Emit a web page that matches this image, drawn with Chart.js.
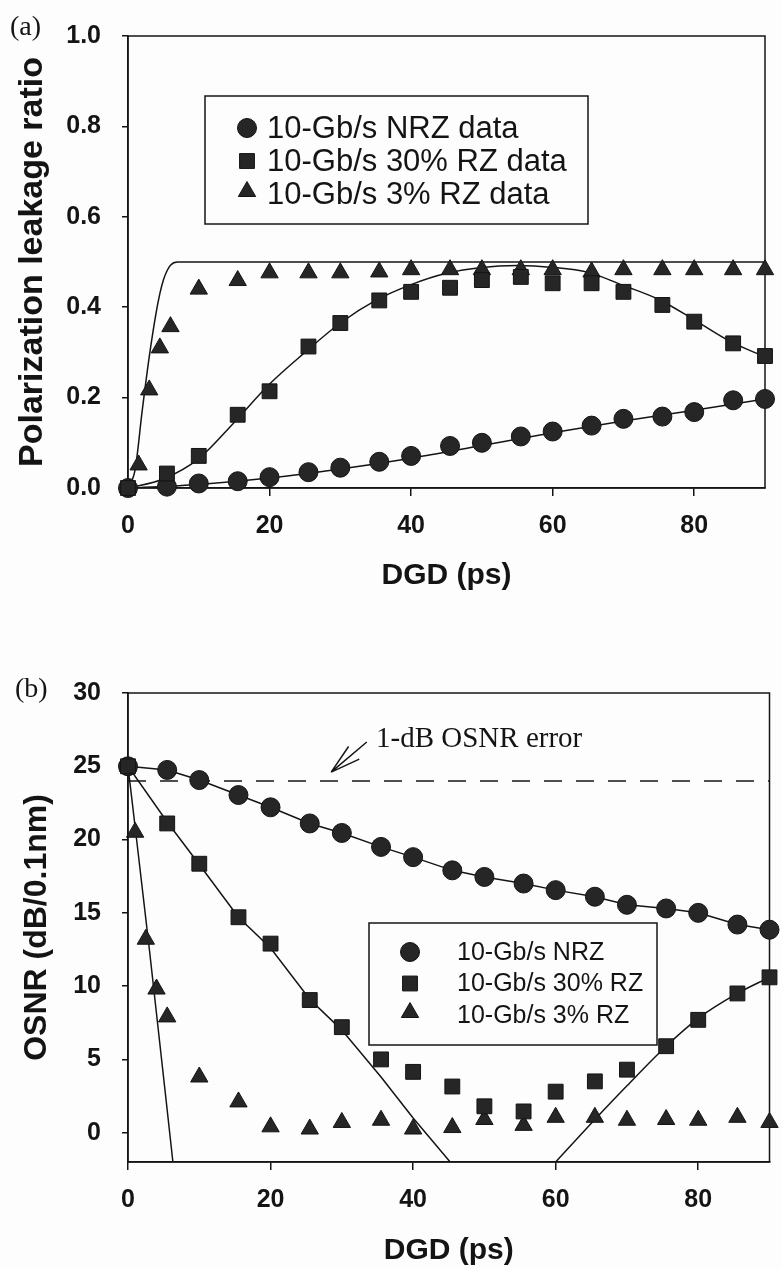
<!DOCTYPE html>
<html>
<head>
<meta charset="utf-8">
<script src="https://cdn.jsdelivr.net/npm/chart.js@4.4.1/dist/chart.umd.min.js"></script>
<style>
  html, body { margin: 0; padding: 0; background: #fdfdfd; }
  #wrap { position: relative; width: 781px; height: 1269px; overflow: hidden; }
  canvas { position: absolute; left: 0; }
  #chartA { top: 0; }
  #chartB { top: 600px; }
</style>
</head>
<body>
<div id="wrap">
  <canvas id="chartA" width="781" height="600"></canvas>
  <canvas id="chartB" width="781" height="669"></canvas>
</div>
<script>
// DGD sample points (ps)
const dgd = [0, 5.5, 10, 15.5, 20, 25.5, 30, 35.5, 40, 45.5, 50, 55.5, 60, 65.5, 70, 75.5, 80, 85.5, 90];
const dgdRz3A = [0, 1.5, 3, 4.5, 6, 10, 15.5, 20, 25.5, 30, 35.5, 40, 45.5, 50, 55.5, 60, 65.5, 70, 75.5, 80, 85.5, 90];
const dgdRz3B = [0, 1, 2.5, 4, 5.5, 10, 15.5, 20, 25.5, 30, 35.5, 40, 45.5, 50, 55.5, 60, 65.5, 70, 75.5, 80, 85.5, 90];

// (a) polarization leakage ratio - measured
const leakNrz = [0, 0.003, 0.01, 0.015, 0.024, 0.035, 0.045, 0.058, 0.071, 0.093, 0.1, 0.114, 0.125, 0.138, 0.153, 0.158, 0.168, 0.194, 0.197];
const leakRz30 = [0, 0.032, 0.071, 0.162, 0.214, 0.313, 0.365, 0.415, 0.434, 0.443, 0.46, 0.467, 0.453, 0.453, 0.434, 0.405, 0.368, 0.32, 0.292];
const leakRz3 = [0, 0.051, 0.217, 0.31, 0.357, 0.44, 0.459, 0.476, 0.476, 0.476, 0.478, 0.483, 0.483, 0.483, 0.483, 0.483, 0.478, 0.483, 0.483, 0.483, 0.483, 0.483];

// (a) theory curves
const fitX = [0, 5, 10, 15, 20, 25, 30, 35, 40, 45, 50, 55, 60, 65, 70, 75, 80, 85, 90];
const leakRz30Fit = [0, 0.02, 0.065, 0.145, 0.23, 0.3, 0.365, 0.415, 0.45, 0.475, 0.488, 0.492, 0.488, 0.477, 0.448, 0.417, 0.372, 0.325, 0.29];
const nrzFitX = [0, 10, 20, 30, 40, 50, 60, 70, 80, 90];
const leakNrzFit = [0, 0.008, 0.022, 0.042, 0.066, 0.094, 0.122, 0.148, 0.172, 0.197];
const rz3FitX = [0, 1, 2, 3, 4, 4.5, 5, 5.5, 6, 7, 90];
const leakRz3Fit = [0, 0.04, 0.17, 0.29, 0.39, 0.43, 0.46, 0.48, 0.493, 0.5, 0.5];

// (b) OSNR (dB/0.1nm) - measured
const osnrNrz = [25, 24.75, 24.06, 23.04, 22.2, 21.1, 20.45, 19.5, 18.8, 17.9, 17.45, 17.0, 16.55, 16.1, 15.55, 15.3, 15.0, 14.2, 13.85];
const osnrRz30 = [25, 21.1, 18.35, 14.7, 12.9, 9.05, 7.2, 5.0, 4.15, 3.15, 1.8, 1.45, 2.8, 3.5, 4.3, 5.9, 7.7, 9.5, 10.6];
const osnrRz3 = [25, 20.5, 13.2, 9.8, 7.9, 3.8, 2.1, 0.4, 0.25, 0.7, 0.85, 0.25, 0.35, 0.9, 0.5, 1.05, 1.05, 0.85, 0.9, 0.85, 1.05, 0.7];

// (b) theory curves
const rz30FallX = [0, 5.5, 10, 15.5, 20, 25.5, 30, 35.5, 40, 45.2];
const osnrRz30Fall = [25, 21.2, 18.3, 14.7, 12.6, 9.1, 7.0, 3.8, 1.0, -2];
const rz30RiseX = [60, 65.5, 70, 75.5, 80, 85.5, 90];
const osnrRz30Rise = [-2, 0.9, 3.2, 5.9, 7.8, 9.5, 10.6];
const rz3FallX = [0, 3, 6.3];
const osnrRz3Fall = [25, 12.5, -2];
const errX = [0, 90];
const osnrErr = [24, 24];

const xTicks = [0, 20, 40, 60, 80];
const yTicksA = [0, 0.2, 0.4, 0.6, 0.8, 1.0];
const yTicksB = [0, 5, 10, 15, 20, 25, 30];
const labelsA = ['10-Gb/s NRZ data', '10-Gb/s 30% RZ data', '10-Gb/s 3% RZ data'];
const labelsB = ['10-Gb/s NRZ', '10-Gb/s 30% RZ', '10-Gb/s 3% RZ'];

const SANS = '"Liberation Sans", Arial, sans-serif';
const SERIF = '"Liberation Serif", "Times New Roman", serif';
const INK = '#141414';
const FILL = '#262626';

const pts = (xs, ys) => xs.map((x, i) => ({ x, y: ys[i] }));
const shapes = [
  { pointStyle: 'circle', radius: 9.5 },
  { pointStyle: 'rect', radius: 10.5 },
  { pointStyle: 'triangle', radius: 10 }
];

function markers(data, shape, order, line) {
  return {
    data, order,
    showLine: !!line,
    borderColor: INK, borderWidth: 1.5,
    pointStyle: shape.pointStyle, pointRadius: shape.radius, pointHoverRadius: shape.radius,
    pointBackgroundColor: FILL, pointBorderColor: INK, pointBorderWidth: 1,
    clip: false
  };
}
function curve(data, extra) {
  return Object.assign({
    data, order: 10, showLine: true,
    pointRadius: 0, pointHoverRadius: 0,
    borderColor: INK, borderWidth: 1.5, fill: false,
    cubicInterpolationMode: 'monotone'
  }, extra);
}

// frame around the plot area
const frame = {
  id: 'frame',
  beforeDatasetsDraw(chart) {
    const { ctx, chartArea: a } = chart;
    ctx.save();
    ctx.strokeStyle = INK;
    ctx.lineWidth = 1.5;
    ctx.strokeRect(a.left, a.top, a.right - a.left, a.bottom - a.top);
    ctx.restore();
  }
};

// boxed legend drawn inside the plot area
const boxLegend = {
  id: 'boxLegend',
  afterDraw(chart, args, o) {
    const { ctx, chartArea: a } = chart;
    const x0 = a.left + o.left, y0 = a.top + o.top;
    ctx.save();
    ctx.fillStyle = '#fdfdfd';
    ctx.fillRect(x0, y0, o.width, o.height);
    ctx.strokeStyle = INK;
    ctx.lineWidth = 1.5;
    ctx.strokeRect(x0, y0, o.width, o.height);
    ctx.font = o.font;
    ctx.textBaseline = 'middle';
    o.labels.forEach((text, i) => {
      const y = y0 + o.firstRow + i * o.rowGap;
      const s = shapes[i];
      ctx.fillStyle = FILL;
      ctx.strokeStyle = INK;
      ctx.lineWidth = 1;
      const dy = s.pointStyle === 'triangle' ? s.radius / 4 : 0;
      Chart.helpers.drawPoint(ctx, { pointStyle: s.pointStyle, radius: s.radius, rotation: 0, borderWidth: 1 }, x0 + o.markerX, y - dy);
      ctx.fillStyle = INK;
      ctx.fillText(text, x0 + o.textX, y + 1);
    });
    ctx.restore();
  }
};

// panel letter and annotation
const notes = {
  id: 'notes',
  afterDraw(chart, args, o) {
    const { ctx } = chart;
    ctx.save();
    ctx.fillStyle = INK;
    ctx.font = '28px ' + SERIF;
    ctx.textBaseline = 'alphabetic';
    ctx.fillText(o.panel, o.panelX, o.panelY);
    if (o.text) {
      const xs = chart.scales.x, ys = chart.scales.y;
      ctx.font = '29px ' + SERIF;
      ctx.fillText(o.text, xs.getPixelForValue(o.textAt[0]), ys.getPixelForValue(o.textAt[1]));
      const fx = xs.getPixelForValue(o.arrowFrom[0]), fy = ys.getPixelForValue(o.arrowFrom[1]);
      const tx = xs.getPixelForValue(o.arrowTo[0]), ty = ys.getPixelForValue(o.arrowTo[1]);
      const ang = Math.atan2(fy - ty, fx - tx);
      ctx.strokeStyle = INK;
      ctx.lineWidth = 1.5;
      ctx.beginPath();
      ctx.moveTo(fx, fy);
      ctx.lineTo(tx, ty);
      [-0.27, 0.27].forEach(d => {
        ctx.moveTo(tx, ty);
        ctx.lineTo(tx + 31 * Math.cos(ang + d), ty + 31 * Math.sin(ang + d));
      });
      ctx.stroke();
    }
    ctx.restore();
  }
};

function axisX(height, titlePad) {
  return {
    type: 'linear', min: 0, max: 90,
    afterFit: s => { s.height = height; },
    afterBuildTicks: s => { s.ticks = xTicks.map(v => ({ value: v })); },
    ticks: { font: { family: SANS, size: 25, weight: 'bold' }, color: INK, padding: 15, maxRotation: 0, autoSkip: false },
    grid: { drawOnChartArea: false, drawTicks: true, tickLength: 8, color: INK, lineWidth: 1.5 },
    border: { color: INK, width: 1.5 },
    title: { display: true, text: 'DGD (ps)', color: INK, font: { family: SANS, size: 30, weight: 'bold' }, padding: { top: 0, bottom: titlePad } }
  };
}
function axisY(min, max, tickVals, fmt, title, titleSize, titlePad) {
  return {
    type: 'linear', min, max,
    afterFit: s => { s.width = 128; },
    afterBuildTicks: s => { s.ticks = tickVals.map(v => ({ value: v })); },
    ticks: { font: { family: SANS, size: 25, weight: 'bold' }, color: INK, padding: 21, autoSkip: false, callback: fmt },
    grid: { drawOnChartArea: false, drawTicks: true, tickLength: 6, color: INK, lineWidth: 1.5 },
    border: { color: INK, width: 1.5 },
    title: { display: true, text: title, color: INK, font: { family: SANS, size: titleSize, weight: 'bold' }, padding: { top: titlePad, bottom: 0 } }
  };
}

new Chart(document.getElementById('chartA'), {
  type: 'scatter',
  data: {
    datasets: [
      markers(pts(dgd, leakRz30), shapes[1], 1),
      markers(pts(dgd, leakNrz), shapes[0], 2),
      markers(pts(dgdRz3A, leakRz3), shapes[2], 3),
      curve(pts(nrzFitX, leakNrzFit)),
      curve(pts(fitX, leakRz30Fit)),
      curve(pts(rz3FitX, leakRz3Fit))
    ]
  },
  options: {
    responsive: false, animation: false, events: [],
    layout: { padding: { top: 25, right: 16, left: 0, bottom: 0 } },
    scales: {
      x: axisX(112, 6),
      y: axisY(0, 1, yTicksA, v => v.toFixed(1), 'Polarization leakage ratio', 34, 12)
    },
    plugins: {
      legend: { display: false }, tooltip: { enabled: false },
      boxLegend: { labels: labelsA, left: 77, top: 60, width: 383, height: 128, markerX: 42, textX: 62, firstRow: 32, rowGap: 33, font: '31px ' + SANS },
      notes: { panel: '(a)', panelX: 10, panelY: 35 }
    }
  },
  plugins: [frame, boxLegend, notes]
});

new Chart(document.getElementById('chartB'), {
  type: 'scatter',
  data: {
    datasets: [
      markers(pts(dgd, osnrRz30), shapes[1], 1),
      markers(pts(dgd, osnrNrz), shapes[0], 2, true),
      markers(pts(dgdRz3B, osnrRz3), shapes[2], 3),
      curve(pts(rz30FallX, osnrRz30Fall), { cubicInterpolationMode: 'default', tension: 0 }),
      curve(pts(rz30RiseX, osnrRz30Rise)),
      curve(pts(rz3FallX, osnrRz3Fall)),
      curve(pts(errX, osnrErr), { borderDash: [18, 14], borderWidth: 1.5 })
    ]
  },
  options: {
    responsive: false, animation: false, events: [],
    layout: { padding: { top: 93, right: 9, left: 0, bottom: 0 } },
    scales: {
      x: axisX(107, 0),
      y: axisY(-2, 30, yTicksB, v => String(v), 'OSNR (dB/0.1nm)', 32, 18)
    },
    plugins: {
      legend: { display: false }, tooltip: { enabled: false },
      boxLegend: { labels: labelsB, left: 241, top: 230, width: 288, height: 122, markerX: 41, textX: 88, firstRow: 29, rowGap: 31.5, font: '25px ' + SANS },
      notes: { panel: '(b)', panelX: 15, panelY: 97, text: '1-dB OSNR error', textAt: [34.8, 26.3], arrowFrom: [33.5, 26.66], arrowTo: [28.5, 24.6] }
    }
  },
  plugins: [frame, boxLegend, notes]
});
</script>
</body>
</html>
